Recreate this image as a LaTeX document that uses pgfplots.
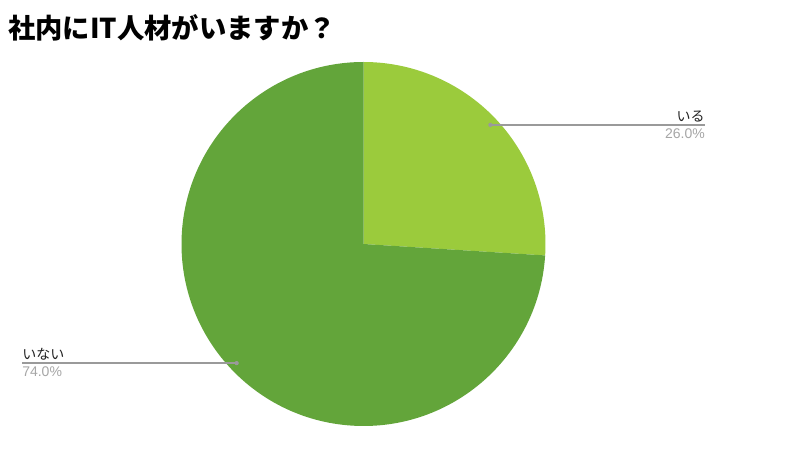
\documentclass[border=0pt]{standalone}
\usepackage{pgfplots}
\pgfplotsset{compat=1.18}
\usepackage{pgfplotstable}
\usepackage{fontspec}
\setmainfont{Liberation Sans}
\newfontfamily\jp{Noto Sans CJK JP}
\definecolor{ltgreen}{HTML}{9BCB3C}
\definecolor{dkgreen}{HTML}{63A53A}
\definecolor{leader}{HTML}{9A9A9A}
\definecolor{pct}{HTML}{A6A6A6}
\definecolor{lbl}{HTML}{222222}
\pgfplotstableread{
key value
iru 26.0
inai 74.0
}\piedata
\def\R{136.5pt}
\def\Rl{130.5pt}
\begin{document}%
\begin{tikzpicture}
\pgfplotstablegetelem{0}{value}\of\piedata \let\valA\pgfplotsretval
\pgfplotstablegetelem{1}{value}\of\piedata \let\valB\pgfplotsretval
\pgfmathsetmacro\angA{90-3.6*\valA}
\pgfmathsetmacro\angB{\angA-3.6*\valB}
\pgfmathsetmacro\midA{(90+\angA)/2}
\pgfmathsetmacro\midB{(\angA+\angB)/2}
\begin{axis}[width=600pt,height=337.5pt,scale only axis,
  xmin=0,xmax=800,ymin=0,ymax=450,hide axis,clip=false,
  xtick=\empty,ytick=\empty,
  /pgf/number format/assume math mode=true]
\fill[white] (axis cs:0,0) rectangle (axis cs:800,450);
\coordinate (bbsw) at (axis cs:0,0);
\coordinate (bbne) at (axis cs:800,450);
% pie slices from data
\fill[ltgreen] (axis cs:363.5,206) -- ++(90:\R) arc[start angle=90,end angle=\angA,radius=\R] -- cycle;
\fill[dkgreen] (axis cs:363.5,206) -- ++(\angA:\R) arc[start angle=\angA,end angle=\angB,radius=\R] -- cycle;
% leader lines
\path (axis cs:363.5,206) ++(\midA:\Rl) coordinate (la);
\path (axis cs:363.5,206) ++(\midB:\Rl) coordinate (lb);
\draw[leader, line width=1.1pt] (la) -- (la -| {axis cs:705,0}) coordinate (lae);
\fill[leader] (la) circle[radius=1.6pt];
\draw[leader, line width=1.1pt] (lb) -- (lb -| {axis cs:22,0}) coordinate (lbe);
\fill[leader] (lb) circle[radius=1.6pt];
% labels
\node[anchor=south east, inner sep=0pt, text=lbl, font=\jp\fontsize{10.5pt}{12pt}\selectfont] at ([yshift=2pt]lae) {いる};
\node[anchor=north east, inner sep=0pt, text=pct, font=\fontsize{10.5pt}{12pt}\selectfont] at ([yshift=-2.5pt]lae) {\pgfmathprintnumber[fixed,precision=1,fixed zerofill,assume math mode=true]{\valA}\%};
\node[anchor=south west, inner sep=0pt, text=lbl, font=\jp\fontsize{10.5pt}{12pt}\selectfont] at ([yshift=2pt]lbe) {いない};
\node[anchor=north west, inner sep=0pt, text=pct, font=\fontsize{10.5pt}{12pt}\selectfont] at ([yshift=-2.5pt]lbe) {\pgfmathprintnumber[fixed,precision=1,fixed zerofill,assume math mode=true]{\valB}\%};
% title
\node[anchor=west, inner sep=0pt, font=\jp\bfseries\fontsize{20.5pt}{24pt}\selectfont] at (axis cs:8,422) {社内にIT人材がいますか？};
\end{axis}
\pgfresetboundingbox
\useasboundingbox (bbsw) rectangle (bbne);
\end{tikzpicture}%
\end{document}
